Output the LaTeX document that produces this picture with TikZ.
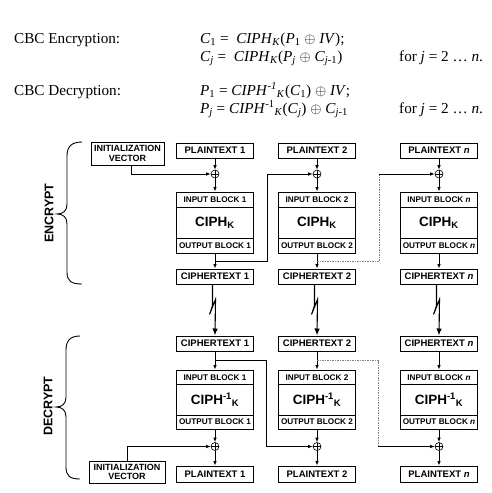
\documentclass[tikz,border=0pt]{standalone}
\usepackage{fontspec}
\setmainfont{Liberation Serif}
\newfontfamily\arialf{Liberation Sans}
\usetikzlibrary{arrows.meta,calc}
\tikzset{
  box/.style={draw, line width=1pt, minimum width=77pt, minimum height=15pt, inner sep=0pt,
    font=\arialf\bfseries\fontsize{9.5}{10}\selectfont},
  blk/.style={box, font=\arialf\bfseries\fontsize{8.2}{9}\selectfont},
  mid/.style={box, minimum height=30.5pt, font=\arialf\bfseries\fontsize{13.5}{14}\selectfont},
  ivbox/.style={box, align=center, minimum width=73pt, minimum height=23pt,
    font=\arialf\bfseries\fontsize{9}{9.5}\selectfont},
  xor/.style={circle, draw, line width=0.6pt, minimum size=8pt, inner sep=0pt,
    path picture={\draw[line width=0.6pt] (path picture bounding box.north) -- (path picture bounding box.south)
      (path picture bounding box.west) -- (path picture bounding box.east);}},
  arr/.style={line width=0.8pt, -{Latex[length=4.5pt,width=3.6pt]}},
  dgray/.style={line width=0.8pt, gray, dash pattern=on 1.5pt off 1pt},
  zig/.style={line width=1.1pt, -{Latex[length=7pt,width=5.5pt]}},
  brc/.style={line width=0.9pt},
  side/.style={font=\arialf\bfseries\fontsize{12.5}{13}\selectfont, rotate=90},
  hdr/.style={anchor=base west, inner sep=0pt, font=\fontsize{15.2}{16}\selectfont}
}
\begin{document}
\begin{tikzpicture}[x=1pt,y=-1pt]
\useasboundingbox (0,0) rectangle (492,493);
% header
\node[hdr] (h1) at (14,43) {CBC Encryption:};
\node[hdr] (e1) at (200,43) {\textit{C}\textsubscript{1} =~~\textit{CIPH}\textsubscript{\textit{K}}(\textit{P}\textsubscript{1} $\oplus$ \textit{IV});};
\node[hdr] (e2) at (200,61) {\textit{C}\textsubscript{\textit{j}} =~~\textit{CIPH}\textsubscript{\textit{K}}(\textit{P}\textsubscript{\textit{j}} $\oplus$ \textit{C}\textsubscript{\textit{j}-1})};
\node[hdr] (f1) at (399,61) {for \textit{j} = 2 … \textit{n}.};
\node[hdr] (h2) at (14,95) {CBC Decryption:};
\node[hdr] (d1) at (200,95) {\textit{P}\textsubscript{1} = \textit{CIPH}\textsuperscript{\textit{-1}}\textsubscript{\textit{K}}(\textit{C}\textsubscript{1}) $\oplus$ \textit{IV};};
\node[hdr] (d2) at (200,113) {\textit{P}\textsubscript{\textit{j}} = \textit{CIPH}\textsuperscript{-1}\textsubscript{\textit{K}}(\textit{C}\textsubscript{\textit{j}}) $\oplus$ \textit{C}\textsubscript{\textit{j}-1}};
\node[hdr] (f2) at (399,113) {for \textit{j} = 2 … \textit{n}.};

% columns
\foreach \c/\x/\l in {1/215/1, 2/317/2, n/439/\textit{n}} {
  % encryption
  \node[box] (pe\c) at (\x,150.5) {PLAINTEXT \l};
  \node[xor] (xe\c) at (\x,174) {};
  \node[blk, minimum height=15.5pt] (ie\c) at (\x,199.75) {INPUT BLOCK \l};
  \node[mid] (ce\c) at (\x,222.75) {CIPH\textsubscript{K}};
  \node[blk] (oe\c) at (\x,245.5) {OUTPUT BLOCK \l};
  \node[box] (te\c) at (\x,276.5) {CIPHERTEXT \l};
  \draw[arr] (pe\c) -- (xe\c);
  \draw[arr] (xe\c) -- (ie\c);
  \draw[arr] (oe\c) -- (te\c);
  % decryption
  \node[box] (td\c) at (\x,343.5) {CIPHERTEXT \l};
  \node[blk, minimum height=14.5pt] (id\c) at (\x,377.25) {INPUT BLOCK \l};
  \node[mid] (cd\c) at (\x,399.75) {CIPH\textsuperscript{-1}\textsubscript{K}};
  \node[blk, minimum height=14pt] (od\c) at (\x,422) {OUTPUT BLOCK \l};
  \node[xor] (xd\c) at (\x,446.5) {};
  \node[box, minimum height=16pt] (pd\c) at (\x,474) {PLAINTEXT \l};
  \draw[arr] (td\c) -- (id\c);
  \draw[arr] (od\c) -- (xd\c);
  \draw[arr] (xd\c) -- (pd\c);
  % transmission
  \draw[zig] ([xshift=-2.5pt]te\c.south) -- ++(0,21) -- ++(-3,9) -- ++(6,-15) -- (td\c.north);
}

% IV boxes
\node[ivbox] (ive) at (127.5,153.5) {INITIALIZATION\\VECTOR};
\draw[arr] ([xshift=3.5pt]ive.south) |- (xe1.west);
\node[ivbox, minimum width=76pt, minimum height=22pt] (ivd) at (127,472) {INITIALIZATION\\VECTOR};
\draw[arr] (ivd.north) |- (xd1.west);

% chaining, encryption
\draw[arr] ($(oe1.south)!0.5!(te1.north)$) -- ++(52,0) |- (xe2.west);
\draw[dgray] ($(oe2.south)!0.5!(te2.north)$) -- ++(62,0) coordinate (k1) -- (k1 |- xen.west) coordinate (k2);
\draw[arr] (k2) -- (xen.west);
% chaining, decryption
\draw[arr] ($(td1.south)!0.5!(id1.north)$) -- ++(51,0) |- (xd2.west);
\draw[dgray] ($(td2.south)!0.5!(id2.north)$) -- ++(61,0) coordinate (k3) -- (k3 |- xdn.west) coordinate (k4);
\draw[arr] (k4) -- (xdn.west);

% braces
\draw[brc] (82,142) .. controls (71,142) and (67,147) .. (67,156) -- (67,204)
  .. controls (67,211) and (63,214) .. (57,214) .. controls (63,214) and (67,217) .. (67,224)
  -- (67,272) .. controls (67,281) and (71,284) .. (82,284);
\draw[brc] (80,336) .. controls (70,336) and (66,341) .. (66,350) -- (66,397)
  .. controls (66,404) and (62,407) .. (56,407) .. controls (62,407) and (66,410) .. (66,417)
  -- (66,467) .. controls (66,476) and (70,479) .. (80,479);
\node[side] (enc) at (49,213) {ENCRYPT};
\node[side] (dec) at (48,406) {DECRYPT};
\end{tikzpicture}
\end{document}
